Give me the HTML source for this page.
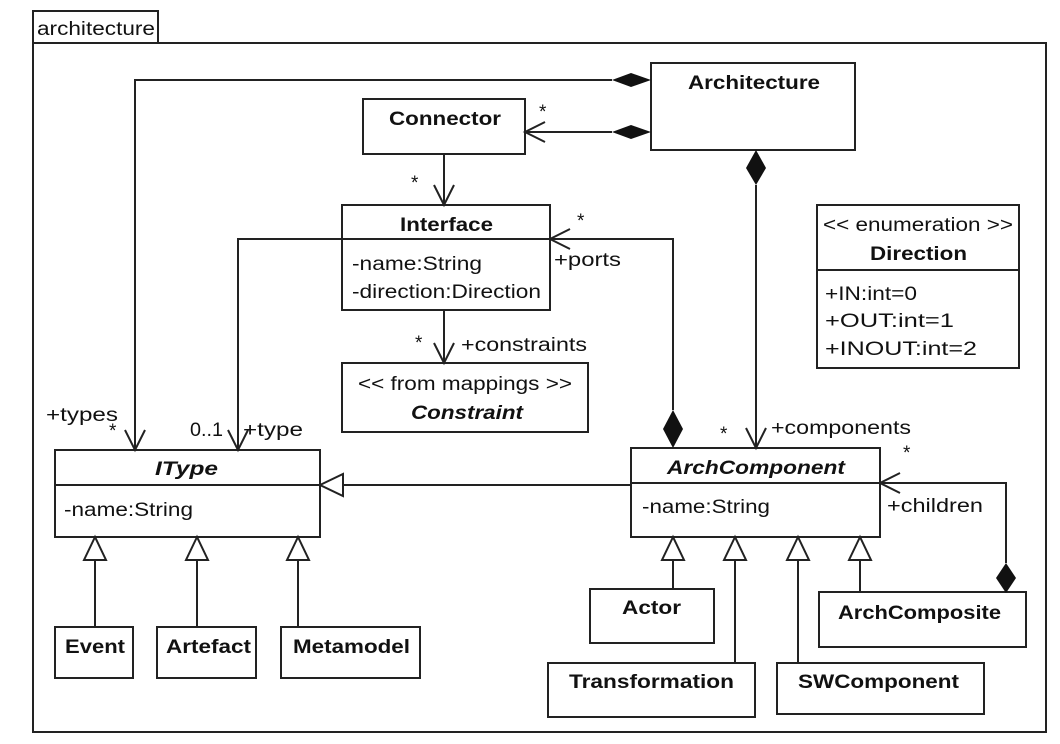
<!DOCTYPE html>
<html><head><meta charset="utf-8"><style>
body{margin:0;background:#fff}
svg{display:block}
text{font-family:"Liberation Sans",Arial,sans-serif;font-size:19px;fill:#111}
.b{font-weight:bold}
.i{font-style:italic;font-weight:bold}
</style></head><body>
<svg width="1060" height="744" viewBox="0 0 1060 744">
<g fill="none" stroke="#222" stroke-width="2">
<rect x="33" y="11" width="125" height="32"/>
<rect x="33" y="43" width="1013" height="689"/>
<rect x="651" y="63" width="204" height="87"/>
<rect x="363" y="99" width="162" height="55"/>
<rect x="342" y="205" width="208" height="105"/><line x1="342" y1="239" x2="550" y2="239"/>
<rect x="342" y="363" width="246" height="69"/>
<rect x="817" y="205" width="202" height="163"/><line x1="817" y1="270" x2="1019" y2="270"/>
<rect x="55" y="450" width="265" height="87"/><line x1="55" y1="485" x2="320" y2="485"/>
<rect x="55" y="627" width="78" height="51"/>
<rect x="157" y="627" width="99" height="51"/>
<rect x="281" y="627" width="139" height="51"/>
<rect x="631" y="448" width="249" height="89"/><line x1="631" y1="483" x2="880" y2="483"/>
<rect x="590" y="589" width="124" height="54"/>
<rect x="548" y="663" width="207" height="54"/>
<rect x="777" y="663" width="207" height="51"/>
<rect x="819" y="592" width="207" height="55"/>
<polyline points="612,80 135,80 135,450"/>
<polyline points="125,430 135,450 145,430"/>
<line x1="612" y1="132" x2="525" y2="132"/>
<polyline points="545,122 525,132 545,142"/>
<line x1="444" y1="154" x2="444" y2="205"/>
<polyline points="434,185 444,205 454,185"/>
<polyline points="342,239 238,239 238,450"/>
<polyline points="228,430 238,450 248,430"/>
<line x1="444" y1="310" x2="444" y2="363"/>
<polyline points="434,343 444,363 454,343"/>
<polyline points="673,410 673,239 550,239"/>
<polyline points="570,229 550,239 570,249"/>
<line x1="756" y1="185" x2="756" y2="448"/>
<polyline points="746,428 756,448 766,428"/>
<polyline points="1006,563 1006,483 880,483"/>
<polyline points="900,473 880,483 900,493"/>
<line x1="631" y1="485" x2="343" y2="485"/>
<polygon points="320,485 343,474 343,496" fill="#fff"/>
<line x1="95" y1="560" x2="95" y2="627"/><polygon points="95,537 84,560 106,560" fill="#fff"/>
<line x1="197" y1="560" x2="197" y2="627"/><polygon points="197,537 186,560 208,560" fill="#fff"/>
<line x1="298" y1="560" x2="298" y2="627"/><polygon points="298,537 287,560 309,560" fill="#fff"/>
<line x1="673" y1="560" x2="673" y2="589"/><polygon points="673,537 662,560 684,560" fill="#fff"/>
<line x1="735" y1="560" x2="735" y2="663"/><polygon points="735,537 724,560 746,560" fill="#fff"/>
<line x1="798" y1="560" x2="798" y2="663"/><polygon points="798,537 787,560 809,560" fill="#fff"/>
<line x1="860" y1="560" x2="860" y2="592"/><polygon points="860,537 849,560 871,560" fill="#fff"/>
</g>
<g fill="#111">
<polygon points="651,80 631,73 612,80 631,87"/>
<polygon points="651,132 631,125 612,132 631,139"/>
<polygon points="756,150 746,168 756,185 766,168"/>
<polygon points="673,448 663,429 673,410 683,429"/>
<polygon points="1006,593 996,578 1006,563 1016,578"/>
</g>
<g>
<text x="37" y="35" textLength="118" lengthAdjust="spacingAndGlyphs">architecture</text>
<text x="688" y="89" class="b" textLength="132" lengthAdjust="spacingAndGlyphs">Architecture</text>
<text x="389" y="125" class="b" textLength="112" lengthAdjust="spacingAndGlyphs">Connector</text>
<text x="400" y="231" class="b" textLength="93" lengthAdjust="spacingAndGlyphs">Interface</text>
<text x="352" y="270" textLength="130" lengthAdjust="spacingAndGlyphs">-name:String</text>
<text x="352" y="298" textLength="189" lengthAdjust="spacingAndGlyphs">-direction:Direction</text>
<text x="358" y="390" textLength="214" lengthAdjust="spacingAndGlyphs">&lt;&lt; from mappings &gt;&gt;</text>
<text x="411" y="419" class="i" textLength="112" lengthAdjust="spacingAndGlyphs">Constraint</text>
<text x="823" y="231" textLength="190" lengthAdjust="spacingAndGlyphs">&lt;&lt; enumeration &gt;&gt;</text>
<text x="870" y="260" class="b" textLength="97" lengthAdjust="spacingAndGlyphs">Direction</text>
<text x="825" y="300" textLength="92" lengthAdjust="spacingAndGlyphs">+IN:int=0</text>
<text x="825" y="327" textLength="129" lengthAdjust="spacingAndGlyphs">+OUT:int=1</text>
<text x="825" y="355" textLength="152" lengthAdjust="spacingAndGlyphs">+INOUT:int=2</text>
<text x="155" y="475" class="i" textLength="63" lengthAdjust="spacingAndGlyphs">IType</text>
<text x="64" y="516" textLength="129" lengthAdjust="spacingAndGlyphs">-name:String</text>
<text x="65" y="653" class="b" textLength="60" lengthAdjust="spacingAndGlyphs">Event</text>
<text x="166" y="653" class="b" textLength="85" lengthAdjust="spacingAndGlyphs">Artefact</text>
<text x="293" y="653" class="b" textLength="117" lengthAdjust="spacingAndGlyphs">Metamodel</text>
<text x="667" y="474" class="i" textLength="178" lengthAdjust="spacingAndGlyphs">ArchComponent</text>
<text x="642" y="513" textLength="128" lengthAdjust="spacingAndGlyphs">-name:String</text>
<text x="622" y="614" class="b" textLength="59" lengthAdjust="spacingAndGlyphs">Actor</text>
<text x="569" y="688" class="b" textLength="165" lengthAdjust="spacingAndGlyphs">Transformation</text>
<text x="798" y="688" class="b" textLength="161" lengthAdjust="spacingAndGlyphs">SWComponent</text>
<text x="838" y="619" class="b" textLength="163" lengthAdjust="spacingAndGlyphs">ArchComposite</text>
<text x="539" y="118" font-size="14">*</text>
<text x="411" y="189" font-size="14">*</text>
<text x="577" y="227" font-size="14">*</text>
<text x="554" y="266" textLength="67" lengthAdjust="spacingAndGlyphs">+ports</text>
<text x="415" y="349" font-size="14">*</text>
<text x="461" y="351" textLength="126" lengthAdjust="spacingAndGlyphs">+constraints</text>
<text x="46" y="421" textLength="72" lengthAdjust="spacingAndGlyphs">+types</text>
<text x="109" y="437" font-size="14">*</text>
<text x="190" y="436" textLength="33" lengthAdjust="spacingAndGlyphs">0..1</text>
<text x="243" y="436" textLength="60" lengthAdjust="spacingAndGlyphs">+type</text>
<text x="720" y="440" font-size="14">*</text>
<text x="771" y="434" textLength="140" lengthAdjust="spacingAndGlyphs">+components</text>
<text x="903" y="459" font-size="14">*</text>
<text x="887" y="512" textLength="96" lengthAdjust="spacingAndGlyphs">+children</text>
</g>
</svg>
</body></html>
